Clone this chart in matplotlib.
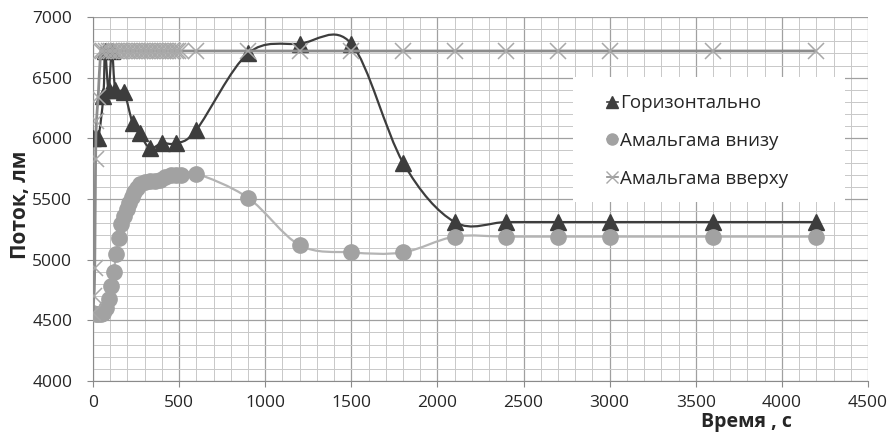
import matplotlib
matplotlib.use('Agg')
import matplotlib.pyplot as plt
from matplotlib.path import Path
from matplotlib.patches import PathPatch, Rectangle
from matplotlib.lines import Line2D
from matplotlib.ticker import MultipleLocator

plt.rcParams['font.family'] = ['Open Sans', 'DejaVu Sans']

# Горизонтально (triangles)
t_hor = [0, 30, 60, 70, 90, 110, 130, 180, 230, 270, 330, 400, 480, 600,
         900, 1200, 1500, 1800, 2100, 2400, 2700, 3000, 3600, 4200]
f_hor = [6000, 6000, 6350, 6720, 6400, 6720, 6400, 6380, 6125, 6040, 5920, 5960, 5960, 6070,
         6700, 6780, 6780, 5800, 5310, 5310, 5310, 5310, 5310, 5310]

# Амальгама внизу (circles)
t_low = [0, 15, 30, 45, 60, 75, 90, 105, 120, 135, 150, 165, 180, 195, 210, 225, 240,
         255, 270, 300, 330, 360, 390, 420, 450, 480, 510, 600,
         900, 1200, 1500, 1800, 2100, 2400, 2700, 3000, 3600, 4200]
f_low = [4560, 4550, 4550, 4550, 4560, 4600, 4680, 4780, 4900, 5050, 5180, 5290, 5360,
         5420, 5470, 5520, 5560, 5590, 5620, 5640, 5650, 5650, 5660, 5680, 5700, 5700, 5700, 5710,
         5510, 5120, 5060, 5060, 5190, 5190, 5190, 5190, 5190, 5190]

# Амальгама вверху (crosses)
t_top = [0, 5, 10, 15, 20, 30, 45, 60, 75, 90, 105, 120, 135, 150, 165, 180, 195, 210,
         225, 240, 255, 270, 285, 300, 315, 330, 345, 360, 375, 390, 405, 420, 435, 450,
         465, 480, 495, 510, 600, 900, 1200, 1500, 1800, 2100, 2400, 2700, 3000, 3600, 4200]
f_top = [4560, 4700, 4930, 5830, 6140, 6340] + [6720] * 43

labels = ['Горизонтально', 'Амальгама внизу', 'Амальгама вверху']


def smooth_path(xs, ys):
    # Excel-like smoothed line: cubic bezier segments through the points
    pts = list(zip(xs, ys))
    verts = [pts[0]]
    codes = [Path.MOVETO]
    n = len(pts)
    for i in range(n - 1):
        p0 = pts[max(i - 1, 0)]
        p1 = pts[i]
        p2 = pts[i + 1]
        p3 = pts[min(i + 2, n - 1)]
        c1 = (p1[0] + (p2[0] - p0[0]) / 6, p1[1] + (p2[1] - p0[1]) / 6)
        c2 = (p2[0] - (p3[0] - p1[0]) / 6, p2[1] - (p3[1] - p1[1]) / 6)
        verts += [c1, c2, p2]
        codes += [Path.CURVE4] * 3
    return Path(verts, codes)


fig = plt.figure(figsize=(8.91, 4.34), dpi=100)
ax = fig.add_axes([0.1044, 0.1221, 0.8698, 0.8387])

ax.set_xlim(0, 4500)
ax.set_ylim(4000, 7000)
ax.xaxis.set_major_locator(MultipleLocator(500))
ax.xaxis.set_minor_locator(MultipleLocator(100))
ax.yaxis.set_major_locator(MultipleLocator(500))
ax.yaxis.set_minor_locator(MultipleLocator(100))
ax.grid(which='major', color='#a0a0a0', lw=0.9)
ax.grid(which='minor', color='#c8c8c8', lw=0.7)
ax.set_axisbelow(True)
for side in ['top', 'right']:
    ax.spines[side].set_visible(False)
for side in ['left', 'bottom']:
    ax.spines[side].set_color('#8a8a8a')
ax.tick_params(which='major', length=4, color='#8a8a8a', labelsize=12.5,
               labelcolor='#262626')
ax.tick_params(axis='x', which='major', pad=6)
ax.tick_params(axis='y', which='major', pad=11)
ax.tick_params(which='minor', length=0)

hor_color, low_color, top_color = '#3d3d3d', '#a2a2a2', '#8c8c8c'

ax.add_patch(PathPatch(smooth_path(t_hor, f_hor), fill=False, ec=hor_color, lw=1.6, zorder=3))
ax.plot(t_hor, f_hor, ls='none', marker='^', ms=11, color=hor_color, zorder=4)

ax.add_patch(PathPatch(smooth_path(t_low, f_low), fill=False, ec='#b4b4b4', lw=1.6, zorder=5))
ax.plot(t_low, f_low, ls='none', marker='o', ms=11, color=low_color, zorder=6)

ax.add_patch(PathPatch(smooth_path(t_top, f_top), fill=False, ec=top_color, lw=2, zorder=7))
ax.plot(t_top, f_top, ls='none', marker='x', ms=12, mew=1.1, color='#a8a8a8', zorder=8)

# white legend area
ax.add_patch(Rectangle((0.619, 0.492), 0.351, 0.343, transform=ax.transAxes,
                       fc='white', ec='none', zorder=9))

handles = [
    Line2D([], [], color=hor_color, lw=1.2, marker='^', ms=8),
    Line2D([], [], color='#b4b4b4', lw=1.2, marker='o', ms=8, mfc=low_color, mec=low_color),
    Line2D([], [], color=top_color, lw=1.2, marker='x', ms=9, mec='#a8a8a8'),
]
leg = ax.legend(handles, labels, loc='upper left', bbox_to_anchor=(0.663, 0.788),
                fontsize=13.5, handlelength=0.6, handletextpad=0.1, labelspacing=1.05,
                borderpad=0, frameon=False, borderaxespad=0)
leg.set_zorder(10)
for txt in leg.get_texts():
    txt.set_color('#262626')

ax.set_ylabel('Поток, лм', fontsize=15, fontweight='bold', color='#262626')
ax.yaxis.set_label_coords(-0.080, 0.485)
ax.set_xlabel('Время , с', fontsize=14, fontweight='bold', color='#262626', ha='right')
ax.xaxis.set_label_coords(0.902, -0.085)

fig.savefig('out.png', dpi=100)
